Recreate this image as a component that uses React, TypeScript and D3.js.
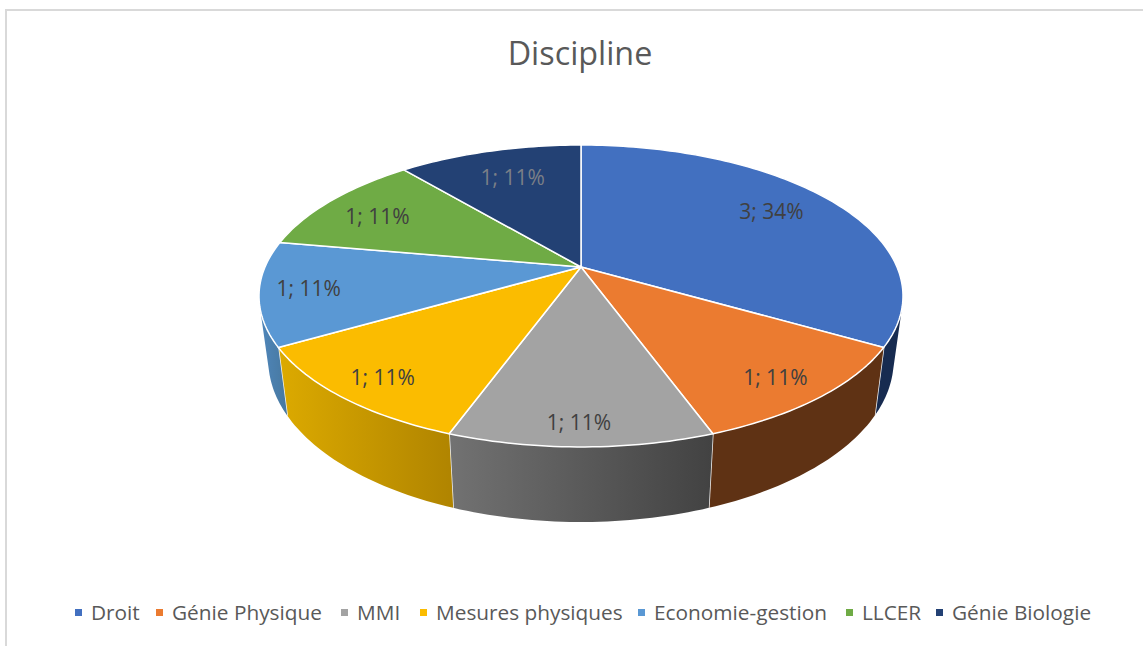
import React, { useEffect, useRef } from 'react';
import * as d3 from 'd3';

const title = 'Discipline';
const categories = ['Droit', 'Génie Physique', 'MMI', 'Mesures physiques', 'Economie-gestion', 'LLCER', 'Génie Biologie'];
const values = [3, 1, 1, 1, 1, 1, 1];
const percents = [34, 11, 11, 11, 11, 11, 11];

const topColors = ['#4270c0', '#eb7b30', '#a3a3a3', '#fbbc00', '#5a98d4', '#6fab45', '#234174'];
// side wall colours, left to right
const sideColors = [
  ['#172b50', '#172b50'],
  ['#5f3214', '#5f3214'],
  ['#727272', '#424242'],
  ['#dcaa00', '#b08400'],
  ['#4f86bb', '#47789f'],
  ['#70ad47', '#70ad47'],
  ['#264478', '#264478'],
];
const labelColors = ['#404040', '#404040', '#404040', '#404040', '#404040', '#404040', '#7b7f87'];
// how far out along the radius each label sits, plus a small hand nudge
const labelRadius = [0.75, 0.85, 0.89, 0.85, 0.85, 0.78, 0.75];
const labelNudge = [[-1, -4], [-3, 3], [-2, 0], [-1, 3], [0, 0], [-5, 3], [3, 1]];
const legendX = [75, 156, 341, 420, 638, 846, 936];

const width = 1143;
const height = 646;
const cx = 581;

// the pie is tilted in perspective, so a circle angle needs projecting
const topDisc = { cy: 267, a: 316, b: 145.4, k: 0.192 };
const bottomDisc = { cy: 329.4, a: 307, b: 156, k: 0.19 };

type Disc = typeof topDisc;

function project(disc: Disc, angle: number, r = 1): [number, number] {
  const u = r * Math.sin(angle);
  const v = r * Math.cos(angle);
  const w = 1 + disc.k * v;
  return [cx + (disc.a * u) / w, disc.cy - (disc.b * v) / w];
}

function rim(disc: Disc, start: number, end: number): [number, number][] {
  const steps = Math.max(2, Math.ceil((end - start) / 0.02));
  return d3.range(steps + 1).map((i) => project(disc, start + ((end - start) * i) / steps));
}

const App: React.FC = () => {
  const svgRef = useRef<SVGSVGElement>(null);

  useEffect(() => {
    if (!svgRef.current) return;

    const svg = d3.select(svgRef.current);
    svg.selectAll('*').remove();

    const font = '"Open Sans", sans-serif';
    const line = d3.line();
    const pie = d3.pie<number>().sort(null)(values);
    const defs = svg.append('defs');

    // chart frame, only the top and left edges are in the crop
    svg.append('path')
      .attr('d', `M6,${height}V10H${width}`)
      .attr('fill', 'none')
      .attr('stroke', '#d9d9d9')
      .attr('stroke-width', 2);

    svg.append('text')
      .attr('x', 580)
      .attr('y', 65)
      .attr('text-anchor', 'middle')
      .attr('font-family', font)
      .attr('font-size', 32.3)
      .attr('fill', '#595959')
      .text(title);

    // side walls, only the front of the disc can be seen
    const visibleStart = (105 * Math.PI) / 180;
    const visibleEnd = (255 * Math.PI) / 180;
    pie.forEach((d, i) => {
      const start = Math.max(d.startAngle, visibleStart);
      const end = Math.min(d.endAngle, visibleEnd);
      if (start >= end) return;

      const top = rim(topDisc, start, end);
      const bottom = rim(bottomDisc, start, end);
      const xs = top.concat(bottom).map((p) => p[0]);

      const grad = defs.append('linearGradient')
        .attr('id', `side-${i}`)
        .attr('gradientUnits', 'userSpaceOnUse')
        .attr('x1', d3.min(xs)!)
        .attr('x2', d3.max(xs)!)
        .attr('y1', 0)
        .attr('y2', 0);
      grad.append('stop').attr('offset', 0).attr('stop-color', sideColors[i][0]);
      grad.append('stop').attr('offset', 1).attr('stop-color', sideColors[i][1]);

      svg.append('path')
        .attr('d', line(top.concat(bottom.reverse()))! + 'Z')
        .attr('fill', `url(#side-${i})`);

      // white seam between two walls
      if (d.endAngle <= visibleEnd && d.endAngle > visibleStart) {
        svg.append('path')
          .attr('d', line([project(topDisc, d.endAngle), project(bottomDisc, d.endAngle)])!)
          .attr('stroke', '#f2f2f2')
          .attr('stroke-width', 1.5);
      }
    });

    // top face
    pie.forEach((d, i) => {
      const pts: [number, number][] = [[cx, topDisc.cy], ...rim(topDisc, d.startAngle, d.endAngle)];
      svg.append('path')
        .attr('d', line(pts)! + 'Z')
        .attr('fill', topColors[i])
        .attr('stroke', '#ffffff')
        .attr('stroke-width', 1.5)
        .attr('stroke-linejoin', 'round');
    });

    // data labels
    pie.forEach((d, i) => {
      const [x, y] = project(topDisc, (d.startAngle + d.endAngle) / 2, labelRadius[i]);
      svg.append('text')
        .attr('x', x + labelNudge[i][0])
        .attr('y', y + labelNudge[i][1] + 7)
        .attr('text-anchor', 'middle')
        .attr('font-family', font)
        .attr('font-size', 21)
        .attr('fill', labelColors[i])
        .text(`${values[i]}; ${percents[i]}%`);
    });

    // legend
    categories.forEach((name, i) => {
      svg.append('rect')
        .attr('x', legendX[i])
        .attr('y', 609)
        .attr('width', 7)
        .attr('height', 7)
        .attr('fill', topColors[i]);
      svg.append('text')
        .attr('x', legendX[i] + 16)
        .attr('y', 620)
        .attr('font-family', font)
        .attr('font-size', 20.8)
        .attr('fill', '#595959')
        .text(name);
    });
  }, []);

  return (
    <svg
      ref={svgRef}
      width={width}
      height={height}
      style={{ position: 'absolute', left: 0, top: 0, background: '#fff' }}
    />
  );
};

export default App;
